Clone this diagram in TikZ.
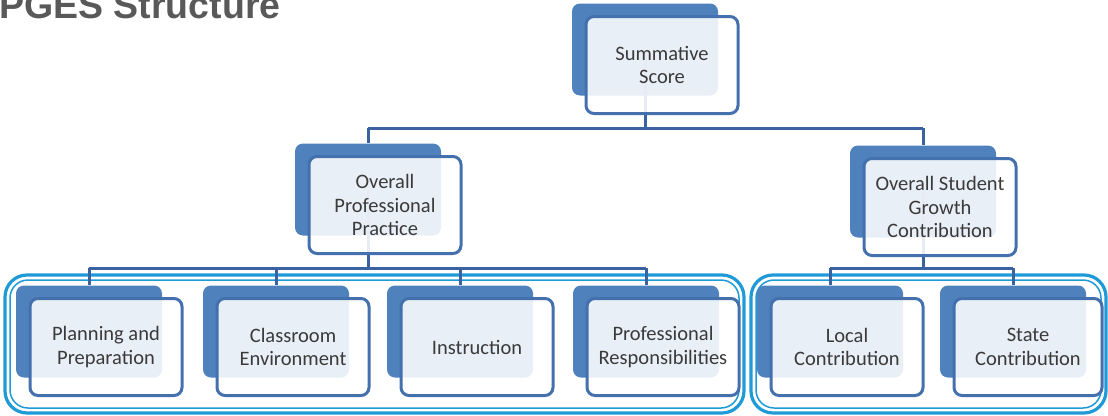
\documentclass[tikz,border=0pt]{standalone}
\usepackage{fontspec}
\setmainfont{Carlito}
\newfontfamily\titlefont{Liberation Sans}
\definecolor{backblue}{HTML}{4F81BD}
\definecolor{frontline}{HTML}{4470AE}
\definecolor{conn}{HTML}{3A62A0}
\definecolor{grp}{HTML}{1E9AD6}
\definecolor{txt}{HTML}{3A3A3A}
\definecolor{ttl}{HTML}{595959}
\begin{document}
\begin{tikzpicture}[x=1pt,y=-1pt,
  backbox/.style={fill=backblue, draw=none, rounded corners=8pt, minimum width=146pt, minimum height=92pt, inner sep=0pt},
  frontbox/.style={fill=white, fill opacity=0.88, text opacity=1, draw=frontline, line width=3pt, rounded corners=8pt,
     minimum width=152pt, minimum height=97pt, inner sep=0pt, align=center, text=txt,
     font=\fontsize{20.5}{23.5}\selectfont},
  connector/.style={draw=conn, line width=3pt},
  groupouter/.style={draw=grp, line width=3.2pt, rounded corners=22pt},
  groupinner/.style={draw=grp, line width=1.5pt, rounded corners=18pt},
  titletext/.style={font=\titlefont\bfseries\fontsize{37.5}{40}\selectfont, text=ttl, inner sep=0pt, anchor=base west}
]
\useasboundingbox (0,0) rectangle (1108,415);
\clip (0,0) rectangle (1108,415);

% title
\node[titletext] (title) at (-1,19) {PGES Structure};

% group frames
\draw[groupouter] (5,275) rectangle (744,413);
\draw[groupinner] (10,280) rectangle (739,408);
\draw[groupouter] (751,275) rectangle (1106,413);
\draw[groupinner] (756,280) rectangle (1101,408);

% back boxes (centers = front centre + (-17,-15.5))
\node[backbox] (ssB)  at (645,49.5) {};
\node[backbox] (oppB) at (368,189.5) {};
\node[backbox] (osgB) at (923,191.5) {};
\node[backbox] (ppB)  at (89,331.5) {};
\node[backbox] (ceB)  at (276,331.5) {};
\node[backbox] (inB)  at (460,331.5) {};
\node[backbox] (prB)  at (646,331.5) {};
\node[backbox] (lcB)  at (830,331.5) {};
\node[backbox] (scB)  at (1013,331.5) {};

% bus coordinates
\coordinate (bus1) at (0,128);
\coordinate (bus2) at (0,268);

% connectors (drawn under the front boxes)
\draw[connector] (ssB.center) -- (ssB |- bus1);
\draw[connector] (oppB |- bus1) -- (osgB |- bus1);
\draw[connector] (oppB |- bus1) -- (oppB.north);
\draw[connector] (osgB |- bus1) -- (osgB.north);

\draw[connector] (oppB.center) -- (oppB |- bus2);
\draw[connector] (ppB |- bus2) -- (prB |- bus2);
\draw[connector] (ppB |- bus2) -- (ppB.north);
\draw[connector] (ceB |- bus2) -- (ceB.north);
\draw[connector] (inB |- bus2) -- (inB.north);
\draw[connector] (prB |- bus2) -- (prB.north);

\draw[connector] (osgB.center) -- (osgB |- bus2);
\draw[connector] (lcB |- bus2) -- (scB |- bus2);
\draw[connector] (lcB |- bus2) -- (lcB.north);
\draw[connector] (scB |- bus2) -- (scB.north);

% front boxes
\node[frontbox] (ss)  at (662,65)  {Summative\\Score};
\node[frontbox] (opp) at (385,205) {Overall\\Professional\\Practice};
\node[frontbox] (osg) at (940,207) {Overall Student\\Growth\\Contribution};
\node[frontbox] (pp)  at (106,347) {Planning and\\Preparation};
\node[frontbox] (ce)  at (293,347) {Classroom\\Environment};
\node[frontbox] (in)  at (477,347) {Instruction};
\node[frontbox] (pr)  at (663,347) {Professional\\Responsibilities};
\node[frontbox] (lc)  at (847,347) {Local\\Contribution};
\node[frontbox, minimum width=148pt] (sc)  at (1028,347) {State\\Contribution};
\end{tikzpicture}
\end{document}
